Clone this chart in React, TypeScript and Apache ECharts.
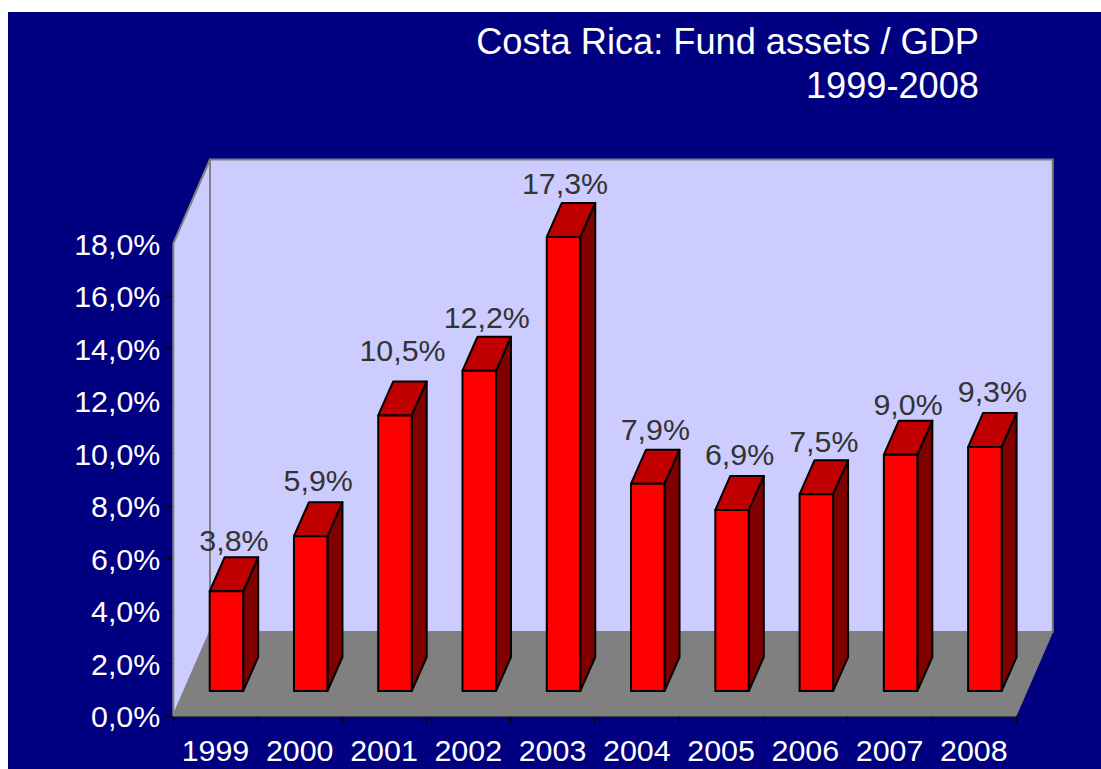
import React, { useEffect, useRef } from "react";
import * as echarts from "echarts";

const years = ["1999", "2000", "2001", "2002", "2003", "2004", "2005", "2006", "2007", "2008"];
const fundAssets = [3.8, 5.9, 10.5, 12.2, 17.3, 7.9, 6.9, 7.5, 9.0, 9.3];
const valueLabels = ["3,8%", "5,9%", "10,5%", "12,2%", "17,3%", "7,9%", "6,9%", "7,5%", "9,0%", "9,3%"];
const titleLines = ["Costa Rica: Fund assets / GDP", "1999-2008"];
const axisMax = 18;
const axisStep = 2;

// Per-label placement tweaks, [dx, dy] in pixels
const labelShift = [
  [0, 3], [0, -2], [0, -11], [0, 0], [-6, 0], [0, -1], [0, -2], [0, 1], [0, 3], [0, -2],
];

// Oblique projection of the chart box and of each bar
const DEPTH_X = 36.7;
const DEPTH_Y = -84;
const BAR_DEPTH_X = 15;
const BAR_DEPTH_Y = -34;
const BAR_WIDTH = 33.5;
const BAR_SHIFT_X = 11;
const BAR_LIFT = 25;
const FONT = '"Liberation Sans", Arial, sans-serif';

function renderWalls(_params: any, api: any) {
  const band = api.size([1, 0])[0];
  const base = api.coord([0, 0]);
  const top = api.coord([0, axisMax])[1];
  const left = base[0] - band / 2;
  const right = left + band * years.length;
  const bottom = base[1];
  const wall = { fill: "#CCCCFF", stroke: "#808080", lineWidth: 2, lineJoin: "miter" };
  return {
    type: "group",
    children: [
      {
        type: "polygon",
        shape: { points: [[left, top], [left + DEPTH_X, top + DEPTH_Y], [left + DEPTH_X, bottom + DEPTH_Y], [left, bottom]] },
        style: wall,
      },
      {
        type: "polygon",
        shape: { points: [[left + DEPTH_X, top + DEPTH_Y], [right + DEPTH_X, top + DEPTH_Y], [right + DEPTH_X, bottom + DEPTH_Y], [left + DEPTH_X, bottom + DEPTH_Y]] },
        style: wall,
      },
      {
        type: "polygon",
        shape: { points: [[left, bottom], [right, bottom], [right + DEPTH_X, bottom + DEPTH_Y], [left + DEPTH_X, bottom + DEPTH_Y]] },
        style: { fill: "#808080", stroke: "#808080", lineWidth: 1 },
      },
    ],
  };
}

function renderBar(params: any, api: any) {
  const i = api.value(0);
  const lift = BAR_LIFT;
  const [cx, y0] = api.coord([i, 0]);
  const yTop = api.coord([i, api.value(1)])[1] - lift;
  const yBase = y0 - lift;
  const x0 = cx + BAR_SHIFT_X - BAR_WIDTH / 2;
  const x1 = x0 + BAR_WIDTH;
  const edge = { stroke: "#000000", lineWidth: 2, lineJoin: "round" };
  const shift = labelShift[params.dataIndex];
  return {
    type: "group",
    children: [
      {
        type: "polygon",
        shape: { points: [[x1, yBase], [x1 + BAR_DEPTH_X, yBase + BAR_DEPTH_Y], [x1 + BAR_DEPTH_X, yTop + BAR_DEPTH_Y], [x1, yTop]] },
        style: { fill: "#800000", ...edge },
      },
      {
        type: "polygon",
        shape: { points: [[x0, yTop], [x1, yTop], [x1 + BAR_DEPTH_X, yTop + BAR_DEPTH_Y], [x0 + BAR_DEPTH_X, yTop + BAR_DEPTH_Y]] },
        style: { fill: "#C00000", ...edge },
      },
      {
        type: "rect",
        shape: { x: x0, y: yTop, width: BAR_WIDTH, height: yBase - yTop },
        style: { fill: "#FF0000", ...edge },
      },
      {
        type: "text",
        x: cx + BAR_SHIFT_X + 7.5 + shift[0],
        y: yTop + BAR_DEPTH_Y - 20 + shift[1],
        style: {
          text: valueLabels[params.dataIndex],
          fill: "#333333",
          fontFamily: FONT,
          fontSize: 30.4,
          align: "center",
          verticalAlign: "middle",
        },
      },
    ],
  };
}

export default function App() {
  const ref = useRef<HTMLDivElement>(null);

  useEffect(() => {
    const chart = echarts.init(ref.current!, undefined, { renderer: "svg" });
    chart.setOption({
      animation: false,
      backgroundColor: "#000080",
      title: {
        text: titleLines.join("\n"),
        left: 966,
        textAlign: "right",
        top: 2,
        textStyle: {
          color: "#FFFFFF",
          fontFamily: FONT,
          fontSize: 36.2,
          fontWeight: "normal",
          align: "right",
          lineHeight: 44,
        },
      },
      grid: { left: 165.3, top: 231.5, width: 842.7, height: 472.5, containLabel: false },
      xAxis: {
        type: "category",
        data: years,
        boundaryGap: true,
        axisLine: { show: true, lineStyle: { color: "#000000", width: 2 } },
        axisTick: { show: true, length: 8, alignWithLabel: false, interval: 0, lineStyle: { color: "#000000", width: 1 } },
        axisLabel: { color: "#FFFFFF", fontFamily: FONT, fontSize: 30.4, margin: 19, interval: 0 },
        splitLine: { show: false },
      },
      yAxis: {
        type: "value",
        min: 0,
        max: axisMax,
        interval: axisStep,
        axisLine: { show: true, lineStyle: { color: "#000000", width: 2 } },
        axisTick: { show: true, length: 8, lineStyle: { color: "#000000", width: 1 } },
        axisLabel: {
          color: "#FFFFFF",
          fontFamily: FONT,
          fontSize: 30.4,
          margin: 13,
          padding: [5, 0, 0, 0],
          formatter: (v: number) => v.toFixed(1).replace(".", ",") + "%",
        },
        splitLine: { show: false },
      },
      series: [
        {
          type: "custom",
          z: 1,
          silent: true,
          clip: false,
          renderItem: renderWalls,
          data: [[0, 0]],
          encode: { x: 0, y: 1 },
        },
        {
          type: "custom",
          z: 3,
          silent: true,
          clip: false,
          renderItem: renderBar,
          data: fundAssets.map((v, i) => [i, v]),
          encode: { x: 0, y: 1 },
        },
      ],
    });
    return () => chart.dispose();
  }, []);

  return <div ref={ref} style={{ position: "absolute", left: 8, top: 12, width: 1093, height: 757 }} />;
}
